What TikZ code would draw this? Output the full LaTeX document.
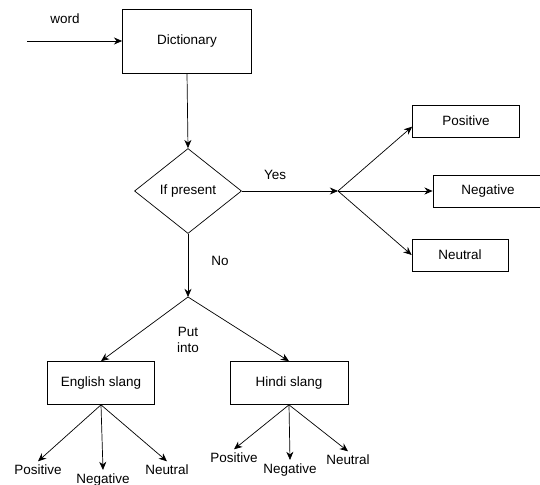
\documentclass[tikz,border=0pt]{standalone}
\usepackage{fontspec}
\setmainfont{Liberation Sans}
\usetikzlibrary{shapes.geometric,arrows.meta}

\tikzset{
  box/.style={draw, line width=0.6pt, minimum height=0.96cm, inner sep=2pt},
  decision/.style={draw, diamond, line width=0.6pt, minimum width=3.21cm, minimum height=2.55cm, inner sep=0pt},
  lbl/.style={inner sep=3pt},
  flow/.style={line width=0.6pt, -{Stealth[length=7pt, width=6pt]}}
}

\begin{document}
\begin{tikzpicture}[x=0.03cm, y=-0.03cm, font=\fontsize{11.5}{13}\selectfont]
    \useasboundingbox (0,0) rectangle (540,485);

    % main boxes
    \node[box, minimum width=3.87cm, minimum height=1.92cm] (dict) at (187,41) {Dictionary};
    \node[decision] (ifp) at (188,191) {If present};

    % result boxes
    \node[box, minimum width=3.21cm] (pos) at (466,121) {Positive};
    \node[box, minimum width=3.3cm] (neg) at (488,191) {Negative};
    \node[box, minimum width=2.88cm] (neu) at (460,255) {Neutral};

    % slang boxes
    \node[box, minimum width=3.21cm, minimum height=1.29cm] (eng) at (101,383) {English slang};
    \node[box, minimum width=3.54cm, minimum height=1.29cm] (hin) at (289,383) {Hindi slang};

    % free ends and split points
    \coordinate (wordin) at (27,41);
    \coordinate (ysplit) at (338,191);
    \coordinate (nsplit) at (188,297);

    % plain labels
    \node[lbl] (word) at (65,19) {word};
    \node[lbl] (yes) at (275,175) {Yes};
    \node[lbl] (no) at (220,261) {No};
    \node[lbl, align=center] (put) at (188,340) {Put\\into};

    \node[lbl] (epos) at (38,470) {Positive};
    \node[lbl] (eneg) at (103,480) {Negative};
    \node[lbl] (eneu) at (167,470) {Neutral};
    \node[lbl] (hpos) at (234,458) {Positive};
    \node[lbl] (hneg) at (290,470) {Negative};
    \node[lbl] (hneu) at (348,460) {Neutral};

    % arrows
    \draw[flow] (wordin) -- (dict.west);
    \draw[flow] (dict.south) -- (ifp.north);
    \draw[flow] (ifp.east) -- (ysplit);
    \draw[flow] (ysplit) -- (pos.186);
    \draw[flow] (ysplit) -- (neg.west);
    \draw[flow] (ysplit) -- (neu.west);
    \draw[flow] (ifp.south) -- (nsplit);
    \draw[flow] (nsplit) -- (eng.north);
    \draw[flow] (nsplit) -- (hin.north);

    \draw[flow] (eng.south) -- (epos.north);
    \draw[flow] (eng.south) -- (eneg.north);
    \draw[flow] (eng.south) -- (eneu.north);
    \draw[flow] (hin.south) -- (hpos.north);
    \draw[flow] (hin.south) -- (hneg.north);
    \draw[flow] (hin.south) -- (hneu.north);
\end{tikzpicture}
\end{document}
